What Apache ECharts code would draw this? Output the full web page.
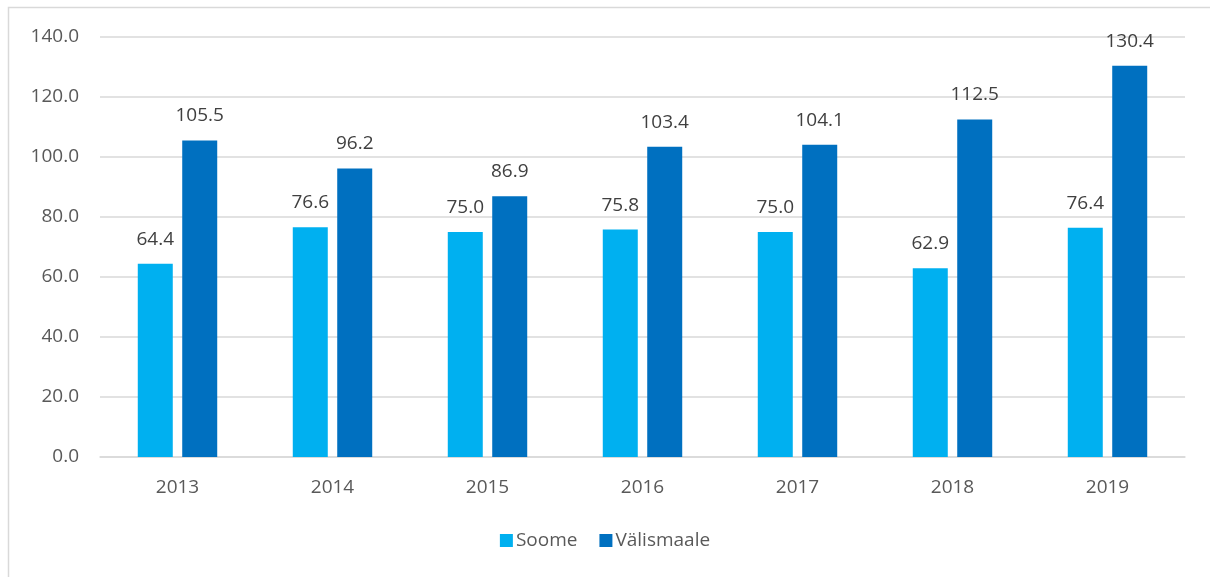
<!DOCTYPE html>
<html>
<head>
<meta charset="utf-8">
<script src="https://cdn.jsdelivr.net/npm/echarts@6/dist/echarts.min.js"></script>
<style>
    html, body { margin: 0; padding: 0; background: #fff; }
    #chart { width: 1210px; height: 577px; }
</style>
</head>
<body>
<div id="chart"></div>
<script>
// years on the x axis
var years = ["2013", "2014", "2015", "2016", "2017", "2018", "2019"];

// Soome
var soome = [64.4, 76.6, 75.0, 75.8, 75.0, 62.9, 76.4];

// Välismaale
var valismaale = [105.5, 96.2, 86.9, 103.4, 104.1, 112.5, 130.4];

var textFont = "'Open Sans', 'DejaVu Sans', sans-serif";
var fontSize = 19;

var chart = echarts.init(document.getElementById("chart"));

function barLabel() {
    return {
        show: true,
        position: "top",
        distance: 15,
        color: "#404040",
        fontSize: fontSize,
        fontFamily: textFont,
        formatter: function (p) {
            return p.value.toFixed(1);
        }
    };
}

var option = {
    animation: false,
    backgroundColor: "#fff",
    graphic: [{
        type: "rect",
        left: 6,
        top: 5,
        shape: {width: 1220, height: 600},
        style: {fill: "none", stroke: "#d9d9d9", lineWidth: 1.5},
        silent: true
    }],
    grid: {
        left: 100,
        right: 25,
        top: 37,
        bottom: 120
    },
    legend: {
        bottom: 22,
        left: "center",
        itemWidth: 13,
        itemHeight: 13,
        itemGap: 22,
        icon: "rect",
        textStyle: {color: "#595959", fontSize: fontSize, fontFamily: textFont, padding: [0, 0, 0, -2]},
        data: ["Soome", "Välismaale"]
    },
    xAxis: {
        type: "category",
        data: years,
        axisLine: {lineStyle: {color: "#d9d9d9", width: 1.5}},
        axisTick: {show: false},
        axisLabel: {color: "#595959", fontSize: fontSize, fontFamily: textFont, margin: 21}
    },
    yAxis: {
        type: "value",
        min: 0,
        max: 140,
        interval: 20,
        axisLine: {show: false},
        axisTick: {show: false},
        splitLine: {lineStyle: {color: "#d9d9d9", width: 1.5}},
        axisLabel: {
            color: "#595959",
            fontSize: fontSize,
            fontFamily: textFont,
            margin: 21,
            formatter: function (v) { return v.toFixed(1); }
        }
    },
    series: [
        {
            name: "Soome",
            type: "bar",
            data: soome,
            barWidth: 35,
            barGap: "27%",
            itemStyle: {color: "#00b0f0"},
            label: barLabel()
        },
        {
            name: "Välismaale",
            type: "bar",
            data: valismaale,
            barWidth: 35,
            itemStyle: {color: "#0070c0"},
            label: barLabel()
        }
    ]
};

chart.setOption(option);
</script>
</body>
</html>
